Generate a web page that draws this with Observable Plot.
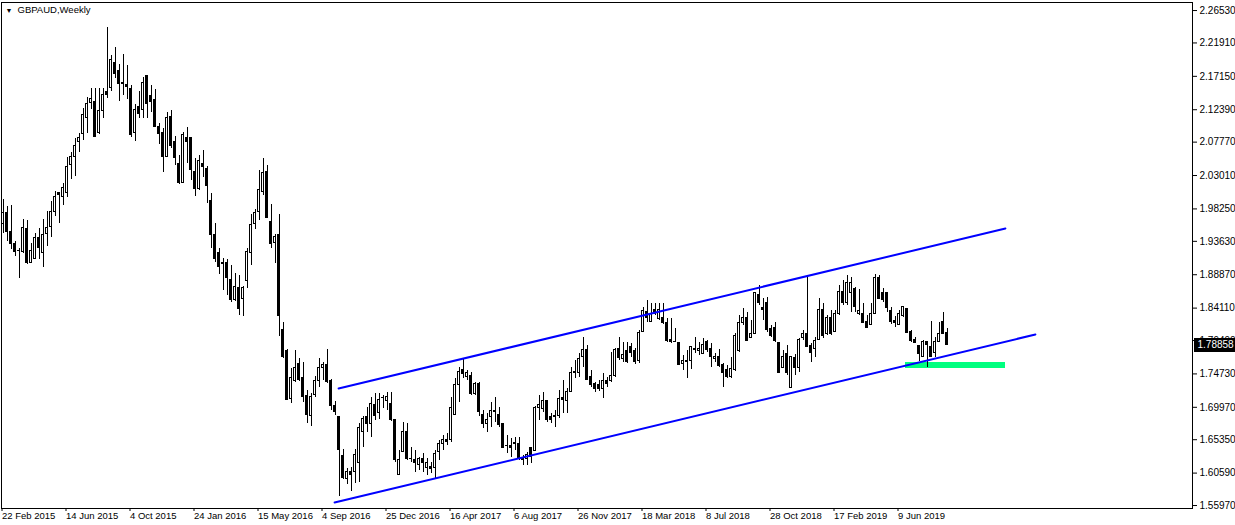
<!DOCTYPE html>
<html><head><meta charset="utf-8">
<script src="https://cdn.jsdelivr.net/npm/d3@7"></script>
<script src="https://cdn.jsdelivr.net/npm/@observablehq/plot@0.6"></script>
<style>html,body{margin:0;padding:0;background:#fff;} #chart svg{display:block}</style>
</head><body><div id="chart"></div>
<script>
const symbolTitle = "GBPAUD,Weekly";

const open = [1.9617,1.9760,1.9503,1.9332,1.9232,1.9218,1.9532,1.9061,1.9118,1.9404,
1.9203,1.9474,1.9574,1.9788,2.0045,2.0002,2.0059,2.0458,2.0558,2.0786,
2.0886,2.1128,2.1342,2.1356,2.0914,2.1214,2.1485,2.1542,2.1898,2.1784,
2.1613,2.1585,2.1528,2.0914,2.1271,2.1242,2.1713,2.1428,2.1371,2.0986,
2.0914,2.0572,2.1142,2.0772,2.0472,2.0201,2.0843,2.0829,2.0358,2.0102,
2.0472,2.0387,1.9931,1.9460,1.9203,1.9047,1.9047,1.8805,1.8520,1.8691,
1.8548,1.8791,1.9203,1.9603,1.9788,2.0073,2.0358,1.9632,1.9346,1.9460,
1.8106,1.7793,1.7122,1.7365,1.7621,1.7408,1.7165,1.6880,1.7179,1.7365,
1.7564,1.7607,1.7379,1.7009,1.6852,1.6310,1.5968,1.6068,1.6068,1.6210,
1.6652,1.6852,1.6752,1.7037,1.6909,1.7136,1.7080,1.7051,1.6809,1.6039,
1.6367,1.6638,1.6267,1.6239,1.6168,1.6253,1.6125,1.6139,1.6125,1.6367,
1.6481,1.6538,1.6524,1.6894,1.7308,1.7522,1.7422,1.7450,1.7193,1.7336,
1.6894,1.6766,1.6852,1.6951,1.6894,1.6752,1.6452,1.6452,1.6495,1.6481,
1.6267,1.6267,1.6410,1.6381,1.6980,1.6966,1.7080,1.6852,1.6852,1.6866,
1.7136,1.7080,1.7222,1.7479,1.7493,1.7707,1.7807,1.7422,1.7336,1.7308,
1.7251,1.7379,1.7379,1.7450,1.7835,1.7679,1.7793,1.7850,1.7793,1.7650,
1.8077,1.8349,1.8206,1.8377,1.8249,1.8263,1.8192,1.7963,1.7935,1.7907,
1.7621,1.7636,1.7650,1.7835,1.7793,1.7764,1.7921,1.7835,1.7679,1.7721,
1.7593,1.7522,1.7422,1.7522,1.7793,1.8192,1.8263,1.7992,1.8049,1.8605,
1.8406,1.8477,1.8120,1.8134,1.7907,1.7564,1.7764,1.7279,1.7693,1.7564,
1.7978,1.8035,1.7878,1.7835,1.7963,1.8377,1.8035,1.8263,1.8077,1.8320,
1.8634,1.8477,1.8620,1.8677,1.8320,1.8334,1.8206,1.8177,1.8334,1.8834,
1.8620,1.8620,1.8363,1.8234,1.8177,1.8292,1.8392,1.8077,1.7963,1.7878,
1.7707,1.7935,1.7850,1.7778,1.7921,1.8220,1.8063];

const high = [1.9960,1.9860,1.9874,1.9361,1.9261,1.9674,1.9660,1.9332,1.9474,1.9546,
1.9674,1.9788,1.9930,2.0073,2.0059,2.0187,2.0558,2.0629,2.0829,2.0900,
2.1257,2.1413,2.1542,2.1542,2.1542,2.1542,2.2411,2.2012,2.2126,2.1884,
2.2026,2.1869,2.1585,2.1314,2.1499,2.1698,2.1727,2.1585,2.1528,2.1043,
2.0971,2.1199,2.1228,2.0857,2.0587,2.0914,2.0986,2.0843,2.0544,2.0587,
2.0658,2.0429,2.0045,1.9617,1.9261,1.9118,1.9104,1.9019,1.8905,1.8876,
1.8719,1.9261,1.9745,1.9817,2.0373,2.0544,2.0444,1.9888,1.9460,1.9745,
1.8206,1.7821,1.7550,1.7807,1.7693,1.7636,1.7236,1.7193,1.7436,1.7693,
1.7636,1.7821,1.7393,1.7080,1.6866,1.6395,1.6125,1.6139,1.6395,1.6766,
1.6866,1.6994,1.7136,1.7193,1.7193,1.7165,1.7208,1.7208,1.6809,1.6381,
1.6781,1.6766,1.6424,1.6381,1.6282,1.6338,1.6267,1.6210,1.6381,1.6524,
1.6595,1.6623,1.7136,1.7408,1.7564,1.7679,1.7522,1.7493,1.7351,1.7351,
1.6951,1.6909,1.7065,1.7136,1.6994,1.6766,1.6595,1.6552,1.6566,1.6566,
1.6310,1.6353,1.6424,1.7009,1.7165,1.7208,1.7094,1.6909,1.6951,1.7236,
1.7379,1.7265,1.7564,1.7664,1.7764,1.7992,1.7878,1.7522,1.7351,1.7379,
1.7479,1.7422,1.7778,1.7835,1.7992,1.7921,1.7921,1.7907,1.7835,1.8092,
1.8420,1.8520,1.8477,1.8477,1.8477,1.8477,1.8263,1.8263,1.8120,1.7907,
1.7736,1.7807,1.7850,1.7992,1.7921,1.7978,1.7949,1.7907,1.7764,1.7821,
1.7621,1.7593,1.7707,1.8049,1.8306,1.8406,1.8349,1.8234,1.8634,1.8734,
1.8548,1.8563,1.8163,1.8206,1.7921,1.7807,1.7878,1.7707,1.7750,1.7978,
1.8092,1.8848,1.7907,1.7992,1.8548,1.8477,1.8306,1.8377,1.8377,1.8734,
1.8805,1.8876,1.8848,1.8705,1.8677,1.8477,1.8306,1.8477,1.8890,1.8876,
1.8691,1.8634,1.8420,1.8292,1.8377,1.8420,1.8406,1.8092,1.7992,1.7878,
1.7949,1.7935,1.8220,1.7992,1.8206,1.8349,1.8120];

const low = [1.9474,1.9361,1.9246,1.9147,1.8834,1.9189,1.9033,1.9047,1.9104,1.9104,
1.8990,1.9289,1.9418,1.9717,1.9617,1.9874,1.9988,2.0244,2.0287,2.0629,
2.0800,2.0900,2.1243,2.0857,2.0886,2.1114,2.1399,2.1499,2.1684,2.1356,
2.1442,2.1385,2.0843,2.0786,2.1114,2.1114,2.1114,2.1199,2.0986,2.0743,
2.0344,2.0558,2.0686,2.0444,2.0173,2.0187,2.0472,2.0230,2.0002,2.0088,
2.0273,1.9902,1.9261,1.9061,1.8890,1.8662,1.8591,1.8491,1.8506,1.8306,
1.8292,1.8691,1.9019,1.9532,1.9660,2.0016,1.9689,1.9261,1.9047,1.8006,
1.7693,1.7094,1.7051,1.7351,1.7365,1.7065,1.6766,1.6723,1.7136,1.7279,
1.7379,1.7336,1.6951,1.6880,1.5726,1.5968,1.5897,1.5797,1.5911,1.5925,
1.6424,1.6638,1.6566,1.6809,1.6823,1.6980,1.6951,1.6795,1.6210,1.6025,
1.6353,1.6239,1.6210,1.6068,1.6096,1.6068,1.6025,1.6054,1.5982,1.6239,
1.6381,1.6452,1.6495,1.6880,1.7065,1.7408,1.7379,1.7165,1.7165,1.6866,
1.6695,1.6638,1.6709,1.6780,1.6709,1.6410,1.6338,1.6282,1.6381,1.6239,
1.6168,1.6168,1.6196,1.6367,1.6809,1.6923,1.6780,1.6766,1.6709,1.6837,
1.6909,1.6909,1.7208,1.7408,1.7422,1.7564,1.7379,1.7279,1.7208,1.7222,
1.7122,1.7279,1.7351,1.7422,1.7664,1.7636,1.7621,1.7707,1.7607,1.7621,
1.8063,1.8206,1.8206,1.8306,1.8234,1.8177,1.7921,1.7907,1.7921,1.7593,
1.7522,1.7408,1.7536,1.7764,1.7736,1.7764,1.7778,1.7564,1.7636,1.7564,
1.7279,1.7408,1.7408,1.7507,1.7778,1.8163,1.7935,1.7978,1.8035,1.8449,
1.8234,1.8063,1.7992,1.7921,1.7479,1.7550,1.7450,1.7265,1.7450,1.7493,
1.7949,1.7850,1.7636,1.7707,1.7949,1.7978,1.8020,1.8020,1.8063,1.8306,
1.8449,1.8449,1.8349,1.8349,1.8306,1.8192,1.8120,1.8163,1.8320,1.8534,
1.8491,1.8349,1.8177,1.8134,1.8163,1.8277,1.8049,1.7921,1.7907,1.7650,
1.7707,1.7564,1.7707,1.7707,1.7921,1.8035,1.7878];

const close = [1.9760,1.9489,1.9318,1.9218,1.9232,1.9560,1.9047,1.9232,1.9404,1.9275,
1.9460,1.9560,1.9788,2.0002,2.0030,2.0130,2.0429,2.0572,2.0729,2.0843,
2.1157,2.1314,2.1399,2.0857,2.1214,2.1456,2.1456,2.1941,2.1755,2.1599,
2.1599,2.1556,2.0872,2.1228,2.1185,2.1613,2.1314,2.1356,2.0986,2.0900,
2.0572,2.1114,2.0729,2.0544,2.0201,2.0872,2.0772,2.0373,2.0116,2.0515,
2.0429,2.0145,1.9460,1.9118,1.9004,1.9033,1.8834,1.8520,1.8705,1.8392,
1.8691,1.9218,1.9589,1.9760,2.0088,2.0344,1.9689,1.9318,1.9418,1.8292,
1.7707,1.7108,1.7408,1.7564,1.7393,1.7151,1.6894,1.7151,1.7379,1.7564,
1.7607,1.7351,1.7009,1.6937,1.6395,1.5996,1.6068,1.6039,1.6324,1.6695,
1.6837,1.6766,1.7051,1.6880,1.7108,1.7136,1.7151,1.6809,1.6239,1.6239,
1.6638,1.6253,1.6267,1.6196,1.6253,1.6196,1.6196,1.6111,1.6338,1.6467,
1.6524,1.6509,1.6994,1.7308,1.7507,1.7465,1.7479,1.7193,1.7336,1.6923,
1.6766,1.6823,1.6951,1.6937,1.6738,1.6424,1.6452,1.6424,1.6467,1.6267,
1.6239,1.6324,1.6282,1.6980,1.7023,1.7094,1.6823,1.6823,1.6880,1.7122,
1.7108,1.7222,1.7479,1.7507,1.7679,1.7821,1.7393,1.7322,1.7251,1.7251,
1.7379,1.7336,1.7450,1.7807,1.7693,1.7736,1.7636,1.7778,1.7636,1.8063,
1.8363,1.8277,1.8334,1.8334,1.8377,1.8192,1.7949,1.7935,1.7935,1.7607,
1.7650,1.7650,1.7850,1.7807,1.7835,1.7892,1.7821,1.7707,1.7707,1.7579,
1.7493,1.7422,1.7550,1.8020,1.8192,1.8277,1.7949,1.8049,1.8620,1.8477,
1.8377,1.8092,1.8020,1.7949,1.7493,1.7721,1.7479,1.7707,1.7564,1.7963,
1.8049,1.7850,1.7778,1.7949,1.8377,1.8020,1.8263,1.8049,1.8320,1.8634,
1.8477,1.8762,1.8776,1.8420,1.8363,1.8192,1.8134,1.8334,1.8834,1.8548,
1.8520,1.8406,1.8206,1.8192,1.8334,1.8420,1.8063,1.7949,1.7907,1.7764,
1.7935,1.7892,1.7721,1.7935,1.8049,1.8049,1.78858];

const lastPrice = 1.78858;

const xTickWeeks = [0,16,32,48,64,80,96,112,128,144,160,176,192,208,224];
const xTickLabels = ["22 Feb 2015","14 Jun 2015","4 Oct 2015","24 Jan 2016","15 May 2016",
  "4 Sep 2016","25 Dec 2016","16 Apr 2017","6 Aug 2017","26 Nov 2017","18 Mar 2018",
  "8 Jul 2018","28 Oct 2018","17 Feb 2019","9 Jun 2019"];
const yTicks = [2.26530,2.21910,2.17150,2.12390,2.07770,2.03010,1.98250,1.93630,1.88870,
  1.84110,1.79490,1.74730,1.69970,1.65350,1.60590,1.55970];

const upperWeeks = [83.9, 250.6];
const upperPrices = [1.7265, 1.9546];
const lowerWeeks = [82.9, 258.1];
const lowerPrices = [1.5640, 1.8035];
const zoneWeeks = [225.6, 250.6];
const zonePrices = [1.7550, 1.7636];

const bars = open.map((o, i) => ({i, open: o, high: high[i], low: low[i], close: close[i]}));
const upper = upperWeeks.map((w, k) => ({w, p: upperPrices[k]}));
const lower = lowerWeeks.map((w, k) => ({w, p: lowerPrices[k]}));
const zone = [{x1: zoneWeeks[0], x2: zoneWeeks[1], y1: zonePrices[0], y2: zonePrices[1]}];

const chart = Plot.plot({
  width: 1235, height: 525,
  marginTop: 2, marginBottom: 17, marginLeft: 1, marginRight: 43,
  style: {fontFamily: "'Liberation Sans', Arial, sans-serif", fontSize: "10px", color: "black", background: "white"},
  x: {type: "linear", domain: [-0.375, 297.375]},
  y: {type: "linear", domain: [1.55545, 2.27675]},
  marks: [
    Plot.rect(zone, {x1: "x1", x2: "x2", y1: "y1", y2: "y2", fill: "#00ff7f", shapeRendering: "crispEdges"}),
    Plot.ruleX(bars, {x: "i", y1: "low", y2: "high", stroke: "black", strokeWidth: 1, shapeRendering: "crispEdges"}),
    Plot.rect(bars, {x1: d => d.i - 0.375, x2: d => d.i + 0.375, y1: "open", y2: "close", fill: "black",
      insetTop: -0.5, insetBottom: -0.5, shapeRendering: "crispEdges"}),
    Plot.rect(bars.filter(d => d.close > d.open), {x1: d => d.i - 0.125, x2: d => d.i + 0.125, y1: "open", y2: "close",
      fill: "white", insetTop: 0.5, insetBottom: 0.5, shapeRendering: "crispEdges"}),
    Plot.line(upper, {x: "w", y: "p", stroke: "#0000ff", strokeWidth: 2}),
    Plot.line(lower, {x: "w", y: "p", stroke: "#0000ff", strokeWidth: 2}),
    Plot.frame({stroke: "black", shapeRendering: "crispEdges"}),
    Plot.axisX(xTickWeeks, {anchor: "bottom", tickSize: 3, tickPadding: 1, textAnchor: "start", dx: -1,
      fontSize: 9.5, tickFormat: d => xTickLabels[xTickWeeks.indexOf(d)], fill: "black"}),
    Plot.axisY(yTicks, {anchor: "right", tickSize: 4, tickPadding: 3, tickFormat: d => d.toFixed(5), fill: "black"}),
    Plot.ruleY([lastPrice], {x1: 297.875, x2: 310, stroke: "black", strokeWidth: 14}),
    Plot.text([lastPrice], {x: 297.875, y: d => d, text: d => d.toFixed(5), textAnchor: "start", fill: "white", dx: 3}),
    Plot.text([symbolTitle], {frameAnchor: "top-left", dx: 16, dy: 4, lineAnchor: "top", fontSize: 9.5, fill: "black"}),
    Plot.text(["▼"], {frameAnchor: "top-left", dx: 4, dy: 6, lineAnchor: "top", fontSize: 7, fill: "black"})
  ]
});
document.getElementById("chart").appendChild(chart);
</script>
</body></html>
